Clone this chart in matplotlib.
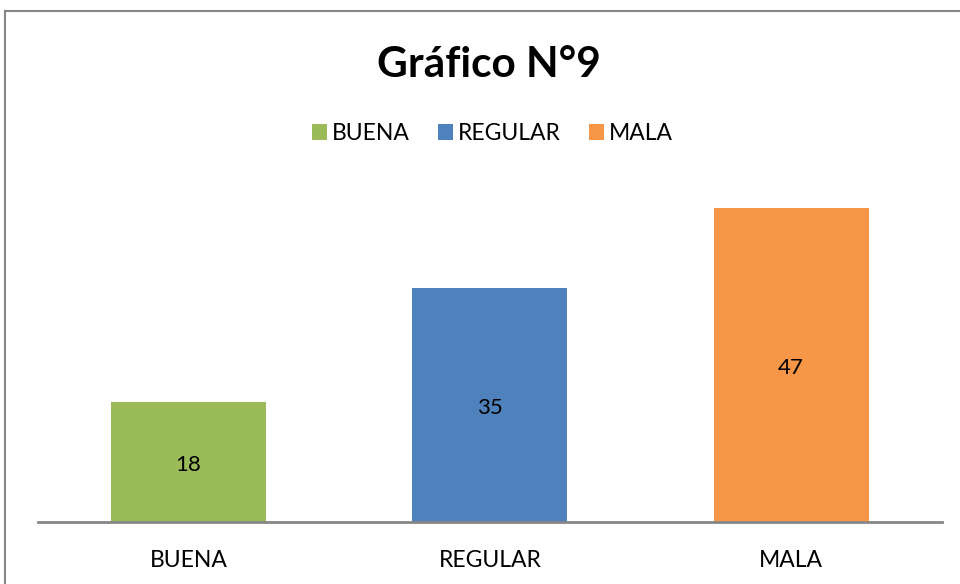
import matplotlib
matplotlib.use('Agg')
import matplotlib.pyplot as plt
from matplotlib.lines import Line2D
from matplotlib.patches import Patch

# datos del grafico
categorias = ['BUENA', 'REGULAR', 'MALA']
valores = [18, 35, 47]
colores = ['#9BBB59', '#4F81BD', '#F79646']

plt.rcParams['font.family'] = ['Lato', 'DejaVu Sans']

fig = plt.figure(figsize=(9.6, 5.84), dpi=100)
ax = fig.add_axes([0.0396, 0.1062, 0.9414, 0.5719])

x = list(range(len(categorias)))
barras = ax.bar(x, valores, width=0.515, color=colores)
for b, v in zip(barras, valores):
    ax.text(b.get_x() + b.get_width() / 2, v / 2 - 0.4, str(v),
            ha='center', va='center', fontsize=16, color='black')

ax.set_xlim(-0.5, len(categorias) - 0.5)
ax.set_ylim(0, 50)
ax.set_yticks([])
ax.set_xticks(x)
ax.set_xticklabels(categorias, fontsize=16.5)
ax.tick_params(axis='x', length=0, pad=20)
for s in ['top', 'right', 'left']:
    ax.spines[s].set_visible(False)
ax.spines['bottom'].set_color('#868686')
ax.spines['bottom'].set_linewidth(2)

fig.text(0.509, 0.889, 'Gráfico N°9', ha='center', va='center',
         fontsize=30.5, fontweight='bold')

handles = [Patch(facecolor=c, label=l) for c, l in zip(colores, categorias)]
fig.legend(handles=handles, loc='center', bbox_to_anchor=(0.513, 0.772),
           ncol=3, frameon=False, fontsize=16.5, handlelength=0.65,
           handleheight=0.7, handletextpad=0.25, columnspacing=1.2)

# marco del grafico
fig.add_artist(Line2D([5 / 960, 1], [1 - 11 / 584, 1 - 11 / 584],
                      transform=fig.transFigure, color='#868686', lw=1.5))
fig.add_artist(Line2D([5 / 960, 5 / 960], [0, 1 - 11 / 584],
                      transform=fig.transFigure, color='#868686', lw=1.5))

fig.savefig('out.png', dpi=100)
